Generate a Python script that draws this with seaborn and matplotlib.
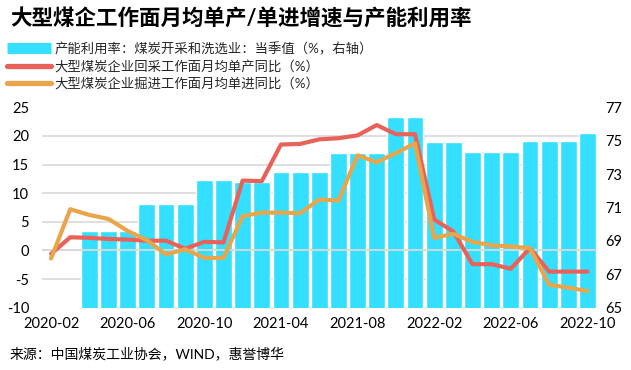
import numpy as np
import pandas as pd
import matplotlib
matplotlib.use("Agg")
import matplotlib.pyplot as plt
from matplotlib.lines import Line2D
from matplotlib.ticker import FixedLocator
import seaborn as sns

# ---------------- data ----------------
months = ["2020-02", "2020-03", "2020-04", "2020-05", "2020-06", "2020-07",
          "2020-08", "2020-09", "2020-10", "2020-11", "2020-12", "2021-03",
          "2021-04", "2021-05", "2021-06", "2021-07", "2021-08", "2021-09",
          "2021-10", "2021-11", "2022-02", "2022-03", "2022-04", "2022-05",
          "2022-06", "2022-07", "2022-08", "2022-09", "2022-10"]
utilization = [np.nan, np.nan, 69.6, 69.6, 69.6, 71.2, 71.2, 71.2, 72.65, 72.65,
               72.55, 72.55, 73.15, 73.15, 73.15, 74.25, 74.25, 74.25, 76.4, 76.4,
               74.9, 74.9, 74.3, 74.3, 74.3, 75.0, 75.0, 75.0, 75.45]
mining_yoy = [-0.6, 2.3, 2.2, 2.0, 1.9, 1.7, 1.7, 0.3, 1.5, 1.4,
              12.2, 12.1, 18.5, 18.6, 19.4, 19.6, 20.1, 21.9, 20.3, 20.3,
              5.4, 3.3, -2.4, -2.4, -3.2, 0.4, -3.7, -3.7, -3.7]
tunnel_yoy = [-1.4, 7.2, 6.2, 5.5, 3.4, 1.8, -0.7, 0.2, -1.3, -1.3,
              6.0, 6.6, 6.6, 6.5, 8.9, 8.7, 16.6, 15.4, 17.0, 18.7,
              2.2, 2.9, 1.5, 0.9, 0.7, 0.4, -6.0, -6.5, -7.1]
tick_labels = ["2020-02", "2020-06", "2020-10", "2021-04",
               "2021-08", "2022-02", "2022-06", "2022-10"]
left_ticks = [-10, -5, 0, 5, 10, 15, 20, 25]
right_ticks = [65, 67, 69, 71, 73, 75, 77]

labels = ["产能利用率：煤炭开采和洗选业：当季值（%，右轴）",
          "大型煤炭企业回采工作面月均单产同比（%）",
          "大型煤炭企业掘进工作面月均单进同比（%）"]
title = "大型煤企工作面月均单产/单进增速与产能利用率"
source = "来源：中国煤炭工业协会，WIND，惠誉博华"

C_BAR = "#35DFFF"
C_RED = "#E8625A"
C_ORG = "#E8A54B"
C_GRID = "#D9D9D9"

df = pd.DataFrame({"month": months, "util": utilization,
                   "mining": mining_yoy, "tunnel": tunnel_yoy})
df["pos"] = np.arange(len(df))

# ---------------- style ----------------
sns.set_theme(style="white")
plt.rcParams["font.family"] = ["Lato", "Noto Sans CJK SC", "DejaVu Sans"]
plt.rcParams["axes.unicode_minus"] = False

W, H = 631, 370
fig = plt.figure(figsize=(W / 100, H / 100), dpi=100)
x0, x1, yt, yb = 41.5, 597.0, 107.3, 307.7
ax1 = fig.add_axes([x0 / W, 1 - yb / H, (x1 - x0) / W, (yb - yt) / H])
ax2 = ax1.twinx()

# bars on right axis (drawn below lines)
sns.barplot(data=df, x="month", y="util", order=months, color=C_BAR,
            saturation=1, width=0.88, ax=ax2, zorder=2)
ylo_l, yhi_l = left_ticks[0], left_ticks[-1]
ylo_r, yhi_r = right_ticks[0], right_ticks[-1]
ax2.set_ylim(ylo_r, yhi_r)
ax1.set_ylim(ylo_l, yhi_l)

# gridlines (left-axis positions) placed on bar axes so bars cover them
grid_r = [ylo_r + (v - ylo_l) * (yhi_r - ylo_r) / (yhi_l - ylo_l) for v in left_ticks]
ax2.yaxis.set_minor_locator(FixedLocator(grid_r))
ax2.grid(which="minor", axis="y", color=C_GRID, lw=1.2, zorder=0)
ax2.grid(which="major", visible=False)
ax2.set_axisbelow(True)

ax1.set_zorder(ax2.get_zorder() + 1)
ax1.patch.set_visible(False)
ax2.patch.set_visible(True)
ax2.patch.set_facecolor("white")

# zero axis line over bars
ax1.axhline(0, color=C_GRID, lw=1.3, zorder=1)

sns.lineplot(data=df, x="pos", y="mining", color=C_RED, lw=3.0, ax=ax1,
             zorder=3, legend=False)
sns.lineplot(data=df, x="pos", y="tunnel", color=C_ORG, lw=3.0, ax=ax1,
             zorder=4, legend=False)
for l in ax1.lines:
    l.set_solid_joinstyle("round")
    l.set_solid_capstyle("round")

ax1.set_xlim(-0.5, len(months) - 0.5)
tick_pos = [months.index(t) for t in tick_labels]
ax1.set_xticks(tick_pos)
ax1.set_xticklabels(tick_labels)
ax1.set_yticks(left_ticks)
ax1.set_yticklabels([str(v) for v in left_ticks])
ax2.set_yticks(right_ticks)
ax2.set_yticklabels([str(v) for v in right_ticks])

for ax in (ax1, ax2):
    for s in ax.spines.values():
        s.set_visible(False)
    ax.set_xlabel("")
    ax.set_ylabel("")
ax1.tick_params(axis="x", length=0, pad=7, labelsize=10.5, colors="#000000")
ax1.tick_params(axis="y", length=0, pad=9, labelsize=10.5, colors="#000000")
ax2.tick_params(axis="y", which="both", length=0, pad=6, labelsize=10.5, colors="#000000")

# title, legend, source
fig.text(10 / W, 1 - 19 / H, title, fontsize=15.5, fontweight="bold",
         va="center", ha="left", color="#000000")
handles = [Line2D([0], [0], color=C_BAR, lw=8, solid_capstyle="butt"),
           Line2D([0], [0], color=C_RED, lw=3.8, solid_capstyle="round"),
           Line2D([0], [0], color=C_ORG, lw=3.8, solid_capstyle="round")]
fig.legend(handles, labels, loc="upper left", bbox_to_anchor=(4 / W, 1 - 39 / H),
           frameon=False, fontsize=9.6, handlelength=3.3, handletextpad=0.3,
           labelspacing=0.35, borderaxespad=0, borderpad=0.2)
fig.text(10 / W, 1 - 353 / H, source, fontsize=10, va="center", ha="left",
         color="#000000")

fig.savefig("out.png", dpi=100)
